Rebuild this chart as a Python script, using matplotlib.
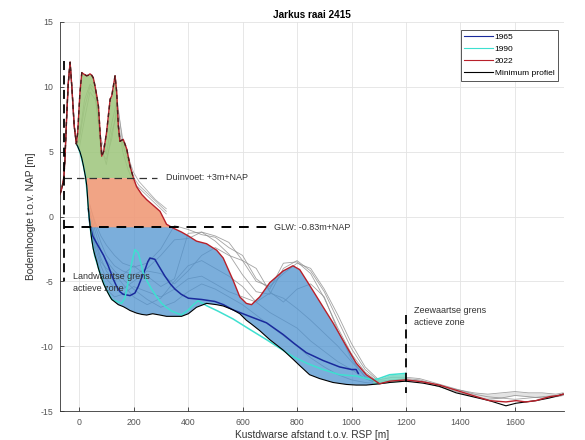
import numpy as np
import matplotlib
matplotlib.use('Agg')
import matplotlib.pyplot as plt

plt.rcParams['font.family'] = ['Liberation Sans', 'DejaVu Sans']
plt.rcParams['axes.unicode_minus'] = False

# Afstand t.o.v. RSP [m] voor 2022 en het minimum profiel
afstand = [-70, -62, -56, -52, -46, -40, -33, -26, -18, -10, -5, 3, 10, 16, 24, 28, 34, 40,
           46, 52, 58, 65, 71, 77, 83, 90, 101, 114, 120, 132, 138, 144, 150, 162, 175, 187,
           199, 211, 230, 248, 270, 297, 321, 346, 376, 401, 431, 468, 505, 529, 565, 590,
           614, 633, 663, 700, 749, 785, 810, 846, 883, 932, 981, 1017, 1054, 1103, 1140,
           1198, 1262, 1323, 1384, 1445, 1506, 1567, 1604, 1640, 1677, 1726, 1762, 1777]

hoogte_2022 = [1.7, 2.3, 3.0, 4.4, 7.5, 10.2, 11.9, 9.8, 7.0, 5.6, 6.5, 9.5, 11.1, 11.0, 10.9, 10.85,
               10.9, 11.0, 10.9, 10.7, 10.1, 9.3, 8.5, 6.5, 4.65, 5.0, 6.5, 9.05, 9.3, 10.85, 9.6,
               7.0, 5.8, 5.95, 5.2, 3.9, 3.0, 2.3, 1.7, 1.3, 0.9, 0.4, -0.6, -0.9, -1.2, -1.5, -1.9,
               -2.1, -2.6, -3.2, -4.9, -6.2, -6.7, -6.8, -6.2, -5.1, -4.2, -3.8, -4.1, -5.3, -6.55,
               -8.2, -10.0, -11.3, -12.2, -12.9, -12.7, -12.6, -12.75, -13.0, -13.4, -13.8, -14.2,
               -14.3, -14.2, -14.3, -14.2, -13.9, -13.8, -13.7]

hoogte_min = [1.7, 2.3, 3.0, 4.4, 7.5, 10.2, 11.9, 9.8, 7.0, 5.6, 5.4, 5.0, 4.5, 3.9, 3.0, 2.4,
              0.6, -0.7, -1.7, -2.5, -3.0, -3.5, -4.0, -4.4, -4.8, -5.2, -5.7, -6.2, -6.4, -6.6,
              -6.7, -6.8, -6.85, -6.95, -7.1, -7.25, -7.35, -7.45, -7.55, -7.6, -7.5, -7.6, -7.7,
              -7.7, -7.7, -7.5, -7.0, -6.7, -6.8, -6.9, -7.2, -7.5, -8.0, -8.3, -8.8, -9.5, -10.3,
              -11.0, -11.5, -12.2, -12.5, -12.8, -12.95, -13.0, -13.0, -12.9, -12.8, -12.7, -12.85,
              -13.1, -13.6, -13.9, -14.2, -14.6, -14.4, -14.3, -14.2, -14.0, -13.8, -13.7]

afstand_1965 = [34, 40, 50, 71, 90, 107, 125, 138, 150, 162, 187, 205, 217, 230, 242, 252, 260,
                278, 295, 315, 335, 352, 375, 401, 450, 498, 530, 565, 626, 688, 749, 790, 834,
                895, 956, 1000, 1017, 1025]
hoogte_1965 = [0.6, -0.7, -1.5, -2.3, -3.0, -3.8, -4.8, -5.4, -5.8, -6.0, -6.1, -5.9, -5.4, -4.7,
               -4.1, -3.5, -3.2, -3.3, -3.9, -4.6, -5.2, -5.6, -6.0, -6.3, -6.4, -6.55, -6.8, -7.2,
               -7.7, -8.2, -9.1, -9.8, -10.5, -11.1, -11.6, -11.8, -11.8, -12.1]

afstand_1990 = [-10, -5, 4, 16, 24, 30, 34, 40, 46, 57, 77, 95, 120, 156, 168, 175, 185, 193, 205,
                217, 227, 236, 250, 266, 285, 303, 320, 340, 376, 401, 420, 437, 470, 510, 565,
                626, 688, 740, 785, 834, 895, 956, 1017, 1078, 1100, 1140, 1198]
hoogte_1990 = [5.6, 5.4, 4.9, 3.9, 3.0, 1.8, 0.6, -0.7, -1.7, -3.0, -4.4, -5.4, -6.4, -6.7, -6.3,
               -5.6, -4.5, -3.6, -2.55, -2.8, -3.6, -4.4, -5.0, -5.6, -6.2, -6.7, -7.0, -7.3, -7.6,
               -7.2, -6.8, -6.5, -6.9, -7.3, -7.9, -8.7, -9.5, -10.2, -10.8, -11.3, -11.8, -12.2,
               -12.3, -12.6, -12.5, -12.2, -12.1]

# Overige jaren (grijs): duinen, actieve zone en zeewaarts deel
afstand_duin = [-10, 0, 20, 40, 60, 80, 100, 120, 140, 160, 180, 200, 220, 250, 280, 320]
duin_a = [5.6, 6.0, 9.0, 10.2, 9.8, 5.5, 4.0, 6.5, 8.0, 5.0, 3.6, 2.6, 2.2, 1.6, 1.0, 0.2]
duin_b = [5.6, 5.2, 7.5, 9.6, 9.0, 6.0, 4.8, 7.2, 9.0, 5.6, 4.2, 3.0, 2.4, 1.8, 1.2, 0.4]
duin_c = [5.6, 5.8, 8.4, 10.0, 9.4, 5.0, 4.4, 6.0, 8.6, 6.0, 4.6, 3.4, 2.7, 2.0, 1.3, 0.6]

afstand_zone = [40, 60, 80, 100, 130, 160, 200, 250, 300, 350, 400, 450, 500, 550, 600, 650,
                700, 750, 800, 850, 900, 950, 1000, 1050, 1100]
zone_a = [0.8, -0.5, -1.5, -2.2, -3.0, -3.6, -3.9, -3.6, -2.5, -0.7, -1.0, -1.4, -1.6, -2.4, -3.0,
          -4.8, -5.6, -3.6, -3.5, -4.4, -6.3, -8.6, -10.6, -12.0, -12.8]
zone_b = [0.2, -1.8, -3.2, -4.2, -5.0, -4.5, -3.8, -4.6, -5.4, -4.8, -1.3, -1.2, -1.9, -2.9, -4.5,
          -5.8, -6.0, -4.0, -3.4, -4.2, -5.8, -8.0, -10.2, -11.8, -12.7]
zone_c = [-0.3, -2.4, -3.8, -4.8, -5.5, -5.6, -5.0, -4.2, -4.4, -5.2, -4.2, -3.0, -2.4, -3.0, -3.4,
          -4.0, -5.8, -6.6, -5.6, -5.2, -6.2, -8.8, -11.0, -12.4, -12.9]
zone_d = [-0.6, -2.8, -4.4, -5.6, -6.2, -6.0, -5.4, -5.8, -6.2, -5.6, -4.8, -4.6, -5.2, -5.8, -6.2,
          -6.6, -5.9, -6.3, -7.1, -8.0, -9.0, -10.0, -11.2, -12.3, -12.9]
zone_e = [0.0, -2.0, -3.5, -4.0, -4.4, -5.2, -6.2, -6.8, -6.3, -5.0, -3.8, -3.4, -4.0, -4.6, -5.4,
          -6.6, -7.4, -8.0, -8.6, -9.6, -10.4, -11.2, -11.8, -12.5, -12.9]
zone_f = [0.4, -1.2, -2.6, -3.4, -4.2, -4.8, -5.6, -6.4, -7.0, -6.6, -5.8, -5.2, -5.6, -6.2, -6.8,
          -7.6, -8.4, -9.2, -10.0, -10.9, -11.6, -12.2, -12.6, -12.8, -12.9]
zone_g = [0.9, -0.8, -2.0, -3.0, -3.8, -4.2, -4.5, -4.0, -3.0, -1.8, -1.7, -1.2, -1.5, -2.0, -3.4,
          -5.0, -5.4, -4.4, -3.6, -4.0, -5.6, -7.6, -9.8, -11.6, -12.6]

afstand_zee = [1100, 1150, 1200, 1250, 1300, 1350, 1400, 1450, 1500, 1550, 1600, 1650, 1700,
               1750, 1777]
zee_a = [-12.7, -12.6, -12.5, -12.6, -12.9, -13.2, -13.4, -13.6, -13.7, -13.6, -13.5, -13.6,
         -13.6, -13.7, -13.6]
zee_b = [-12.8, -12.7, -12.6, -12.7, -13.0, -13.3, -13.6, -13.9, -14.1, -14.0, -13.8, -13.9,
         -14.0, -13.9, -13.8]
zee_c = [-12.6, -12.4, -12.4, -12.5, -12.8, -13.1, -13.4, -13.7, -13.9, -14.0, -14.1, -14.0,
         -13.9, -13.8, -13.7]

DUINVOET = 3.0
GLW = -0.83
GRENS_LAND = -56
GRENS_ZEE = 1200

x = np.array(afstand, dtype=float)
z22 = np.array(hoogte_2022)
zmin = np.array(hoogte_min)

fig = plt.figure(figsize=(5.85, 4.4), dpi=100)
ax = fig.add_axes([0.1026, 0.0659, 0.8615, 0.8841])

# grijze profielen van de overige jaren
for prof in [duin_a, duin_b, duin_c]:
    ax.plot(afstand_duin, prof, color='#9a9a9a', lw=0.6, alpha=0.8, zorder=2)
for prof in [zone_a, zone_b, zone_c, zone_d, zone_e, zone_f, zone_g]:
    ax.plot(afstand_zone, prof, color='#8c8c8c', lw=0.6, alpha=0.8, zorder=2)
for prof in [zee_a, zee_b, zee_c]:
    ax.plot(afstand_zee, prof, color='#8c8c8c', lw=0.6, alpha=0.8, zorder=2)
ax.fill_between(afstand_zee, zee_a, zee_b, color='#c8c8c8', alpha=0.5, lw=0, zorder=1)

# volumes tussen minimum profiel en 2022, opgesplitst op duinvoet en GLW
binnen = x <= GRENS_ZEE
onder = np.maximum(zmin, DUINVOET)
ax.fill_between(x, onder, z22, where=(z22 > onder) & binnen, interpolate=True,
                color='#9cc57a', alpha=0.85, lw=0, zorder=3)
onder = np.maximum(zmin, GLW)
boven = np.minimum(z22, DUINVOET)
ax.fill_between(x, onder, boven, where=(boven > onder) & binnen, interpolate=True,
                color='#f09a78', alpha=0.9, lw=0, zorder=3)
boven = np.minimum(z22, GLW)
ax.fill_between(x, zmin, boven, where=(boven > zmin) & binnen, interpolate=True,
                color='#4f93d0', alpha=0.75, lw=0, zorder=3)

# strook waar 1990 boven het minimum profiel ligt, zeewaarts van de rug
x90 = np.array(afstand_1990, dtype=float)
z90 = np.array(hoogte_1990)
staart = x90 >= 1078
ax.fill_between(x90[staart], np.interp(x90[staart], x, zmin), z90[staart],
                color='#6fd6c0', alpha=0.8, lw=0, zorder=3)

ax.plot(afstand_1965, hoogte_1965, color='#1a2a9c', lw=1.1, zorder=5, label='1965')
ax.plot(afstand_1990, hoogte_1990, color='#3ee0d0', lw=1.1, zorder=5, label='1990')
ax.plot(afstand, hoogte_2022, color='#b8202a', lw=1.0, zorder=6, label='2022')
ax.plot(afstand, hoogte_min, color='black', lw=0.8, zorder=5, label='Minimum profiel')
duin = x <= 199
ax.plot(x[duin], z22[duin], color='#4a1d1d', lw=1.0, ls=(0, (3, 2.5)), zorder=7)

# grenzen van de actieve zone en referentieniveaus
ax.plot([GRENS_LAND, 285], [DUINVOET, DUINVOET], color='#333333', lw=0.9, ls=(0, (6, 4)), zorder=8)
ax.plot([GRENS_LAND, 688], [GLW, GLW], color='black', lw=1.4, ls=(0, (5, 4)), zorder=8)
ax.plot([GRENS_LAND, GRENS_LAND], [12, -5], color='black', lw=1.3, ls=(0, (5, 3)), zorder=8)
ax.plot([GRENS_ZEE, GRENS_ZEE], [-7.6, -13.6], color='black', lw=1.3, ls=(0, (5, 3)), zorder=8)

tekst = dict(fontsize=6.5, color='#333333', va='center', zorder=9)
ax.text(318, DUINVOET, 'Duinvoet: +3m+NAP', **tekst)
ax.text(716, GLW, 'GLW: -0.83m+NAP', **tekst)
ax.text(-22, -5.1, 'Landwaartse grens\nactieve zone', linespacing=1.35, **tekst)
ax.text(1228, -7.7, 'Zeewaartse grens\nactieve zone', linespacing=1.35, **tekst)

ax.set_xlim(-70, 1780)
ax.set_ylim(-15, 15)
ax.set_xticks(np.arange(0, 1601, 200))
ax.set_yticks(np.arange(-15, 16, 5))
ax.grid(True, color='#e3e3e3', lw=0.6)
ax.set_axisbelow(True)
for side in ['top', 'right']:
    ax.spines[side].set_visible(False)
for side in ['left', 'bottom']:
    ax.spines[side].set_color('#333333')
    ax.spines[side].set_linewidth(0.6)
ax.tick_params(direction='in', length=3, width=0.6, labelsize=6.3, colors='#333333',
               labelcolor='#555555', pad=5)

ax.set_title('Jarkus raai 2415', fontsize=7.2, fontweight='bold', pad=3)
ax.set_xlabel('Kustdwarse afstand t.o.v. RSP [m]', fontsize=7.3, color='#333333', labelpad=2)
ax.set_ylabel('Bodemhoogte t.o.v. NAP [m]', fontsize=7.3, color='#333333', labelpad=3)

leg = ax.legend(loc='upper right', bbox_to_anchor=(0.996, 0.99), fontsize=6,
                handlelength=3.4, handletextpad=0.25, labelspacing=0.5, borderpad=0.4,
                fancybox=False, framealpha=1)
leg.get_frame().set_edgecolor('#555555')
leg.get_frame().set_linewidth(0.7)
for h in leg.get_lines():
    h.set_linewidth(0.8)

fig.savefig('out.png', dpi=100)
